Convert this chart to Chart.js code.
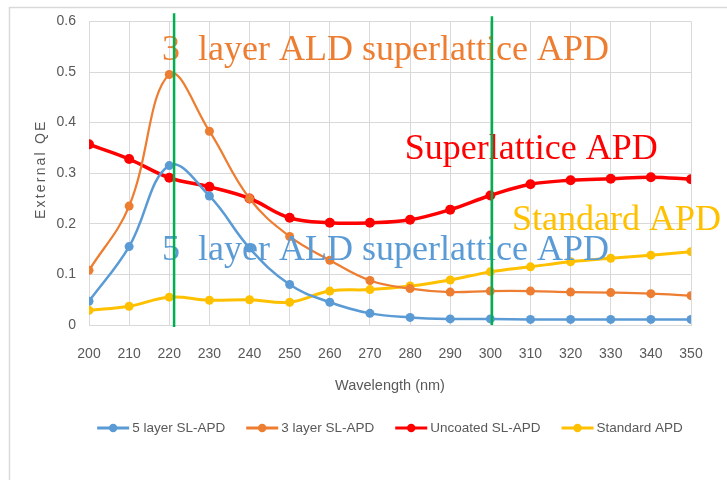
<!DOCTYPE html>
<html>
<head>
<meta charset="utf-8">
<script src="https://cdn.jsdelivr.net/npm/chart.js@4.4.1/dist/chart.umd.min.js"></script>
<style>
  html, body { margin: 0; padding: 0; background: #fff; }
  #wrap { position: relative; width: 727px; height: 480px; }
  canvas { display: block; }
</style>
</head>
<body>
<div id="wrap"><canvas id="c" width="727" height="480"></canvas></div>
<script>
// ---- data ----
const wavelengths = [200, 210, 220, 230, 240, 250, 260, 270, 280, 290, 300, 310, 320, 330, 340, 350];
const fiveLayer   = [0.047, 0.155, 0.315, 0.255, 0.152, 0.080, 0.045, 0.023, 0.015, 0.012, 0.012, 0.011, 0.011, 0.011, 0.011, 0.011];
const threeLayer  = [0.108, 0.235, 0.495, 0.383, 0.250, 0.175, 0.128, 0.088, 0.072, 0.065, 0.067, 0.067, 0.065, 0.064, 0.062, 0.058];
const uncoated    = [0.357, 0.328, 0.291, 0.273, 0.250, 0.212, 0.202, 0.202, 0.208, 0.228, 0.256, 0.278, 0.286, 0.289, 0.292, 0.288];
const standard    = [0.029, 0.037, 0.055, 0.049, 0.050, 0.045, 0.067, 0.070, 0.077, 0.089, 0.105, 0.115, 0.125, 0.132, 0.138, 0.145];
const seriesLabels = ['5 layer SL-APD', '3 layer SL-APD', 'Uncoated SL-APD', 'Standard APD'];
const yTicks = [0, 0.1, 0.2, 0.3, 0.4, 0.5, 0.6];
const xTitle = 'Wavelength (nm)';
const yTitle = 'External QE';

// annotations (in data units)
const annotationTexts = ['3  layer ALD superlattice APD', 'Superlattice APD', 'Standard APD', '5  layer ALD superlattice APD'];
const annotationX = [218.2, 278.7, 305.4, 218.2];
const annotationY = [0.523, 0.3285, 0.187, 0.128];
const markerWavelengths = [221.2, 300.4];
const markerTop = [0.616, 0.61];
const markerBottom = [-0.004, 0.0];

// ---- styles ----
const colors = ['#5B9BD5', '#ED7D31', '#FF0000', '#FFC000'];
const lineWidths = [2.5, 2.25, 3.5, 3];
const pointRadii = [4.5, 4.5, 5, 4.5];
const annotationColors = ['#ED7D31', '#FF0000', '#FFC000', '#5B9BD5'];
const SANS = "'Liberation Sans', Arial, sans-serif";
const GRAY = '#595959';

const seriesValues = [fiveLayer, threeLayer, uncoated, standard];
const datasets = seriesValues.map((vals, i) => ({
  label: seriesLabels[i],
  data: wavelengths.map((w, j) => ({ x: w, y: vals[j] })),
  borderColor: colors[i],
  backgroundColor: colors[i],
  borderWidth: lineWidths[i],
  pointRadius: pointRadii[i],
  pointHoverRadius: pointRadii[i],
  pointBorderWidth: 0,
  pointStyle: 'circle',
  tension: 0.4,
  fill: false
}));

const decorPlugin = {
  id: 'decor',
  beforeDraw(chart) {
    const ctx = chart.ctx;
    ctx.save();
    ctx.fillStyle = '#fff';
    ctx.fillRect(0, 0, chart.width, chart.height);
    ctx.strokeStyle = '#d9d9d9';
    ctx.lineWidth = 1.5;
    ctx.strokeRect(9.5, 7.5, chart.width + 10, chart.height + 10);
    ctx.restore();
  },
  afterDatasetsDraw(chart) {
    const ctx = chart.ctx;
    const xs = chart.scales.x, ys = chart.scales.y;
    ctx.save();
    ctx.font = "36px 'Liberation Serif', 'Times New Roman', serif";
    ctx.textBaseline = 'alphabetic';
    ctx.textAlign = 'left';
    annotationTexts.forEach((t, i) => {
      ctx.fillStyle = annotationColors[i];
      ctx.fillText(t, xs.getPixelForValue(annotationX[i]), ys.getPixelForValue(annotationY[i]));
    });
    ctx.strokeStyle = '#00B050';
    ctx.lineWidth = 2.5;
    markerWavelengths.forEach((w, i) => {
      const px = xs.getPixelForValue(w);
      ctx.beginPath();
      ctx.moveTo(px, ys.getPixelForValue(markerTop[i]));
      ctx.lineTo(px, ys.getPixelForValue(markerBottom[i]));
      ctx.stroke();
    });
    ctx.restore();
  },
  afterDraw(chart) {
    const ctx = chart.ctx;
    const area = chart.chartArea;
    // y axis title
    ctx.save();
    ctx.translate(41, (area.top + area.bottom) / 2 - 4);
    ctx.rotate(-Math.PI / 2);
    ctx.font = "14px " + SANS;
    ctx.letterSpacing = '2.2px';
    ctx.fillStyle = GRAY;
    ctx.textAlign = 'center';
    ctx.textBaseline = 'middle';
    ctx.fillText(yTitle, 0, 0);
    ctx.restore();
    // legend
    ctx.save();
    ctx.font = "13.5px " + SANS;
    ctx.textBaseline = 'middle';
    ctx.textAlign = 'left';
    const markW = 32, gap = 3, spacing = 21;
    const widths = seriesLabels.map(t => markW + gap + ctx.measureText(t).width);
    const total = widths.reduce((a, b) => a + b, 0) + spacing * (widths.length - 1);
    let x = (area.left + area.right) / 2 - total / 2;
    const y = 428;
    seriesLabels.forEach((t, i) => {
      ctx.strokeStyle = colors[i];
      ctx.fillStyle = colors[i];
      ctx.lineWidth = 3;
      ctx.beginPath(); ctx.moveTo(x, y); ctx.lineTo(x + markW, y); ctx.stroke();
      ctx.beginPath(); ctx.arc(x + markW / 2, y, 4.2, 0, Math.PI * 2); ctx.fill();
      ctx.fillStyle = GRAY;
      ctx.fillText(t, x + markW + gap, y);
      x += widths[i] + spacing;
    });
    ctx.restore();
  }
};

new Chart(document.getElementById('c'), {
  type: 'line',
  data: { datasets },
  options: {
    responsive: false,
    animation: false,
    layout: { padding: { left: 20, right: 36, top: 20, bottom: 79 } },
    plugins: {
      tooltip: { enabled: false },
      legend: { display: false }
    },
    scales: {
      x: {
        type: 'linear',
        min: 200, max: 350,
        afterBuildTicks(scale) { scale.ticks = wavelengths.map(v => ({ value: v })); },
        afterFit(scale) { scale.height = 76; },
        grid: { color: '#d9d9d9', drawTicks: false, lineWidth: 1 },
        border: { color: '#d9d9d9' },
        ticks: { color: GRAY, padding: 21, font: { family: SANS, size: 14 }, maxRotation: 0 },
        title: { display: true, text: xTitle, color: GRAY, font: { family: SANS, size: 14.5 }, padding: { top: 0, bottom: 6 } }
      },
      y: {
        min: 0, max: 0.6,
        afterBuildTicks(scale) { scale.ticks = yTicks.map(v => ({ value: v })); },
        afterFit(scale) { scale.width = 69; },
        grid: { color: '#d9d9d9', drawTicks: false, lineWidth: 1 },
        border: { display: false },
        ticks: { color: GRAY, padding: 13, font: { family: SANS, size: 14 }, callback: v => String(+(+v).toFixed(1)) }
      }
    }
  },
  plugins: [decorPlugin]
});
</script>
</body>
</html>
